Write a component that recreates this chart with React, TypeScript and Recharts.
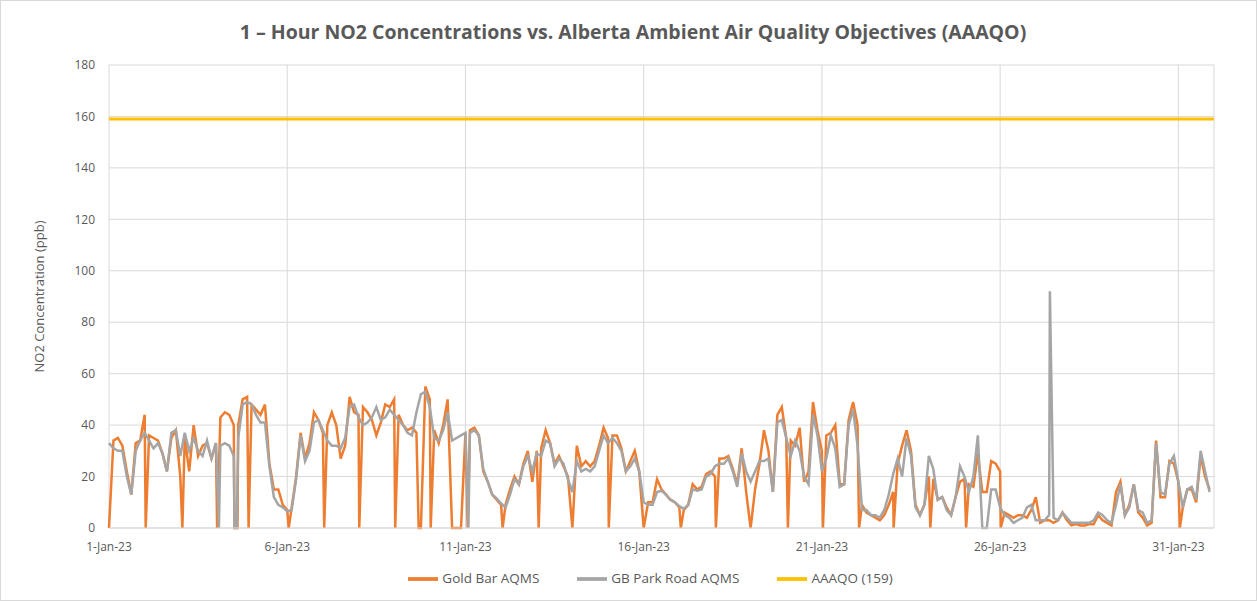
import { LineChart, Line, XAxis, YAxis, CartesianGrid, Legend } from 'recharts';

// x axis is hours since 1-Jan-23 00:00
const dayTicks = [0, 120, 240, 360, 480, 600, 720];
const dayLabels = ['1-Jan-23', '6-Jan-23', '11-Jan-23', '16-Jan-23', '21-Jan-23', '26-Jan-23', '31-Jan-23'];
const yTicks = [0, 20, 40, 60, 80, 100, 120, 140, 160, 180];
const legendOrder = ['Gold Bar AQMS', 'GB Park Road AQMS', 'AAAQO (159)'];

// 3-hourly readings (ppb)
const goldBar = [
  0, 34, 35, 32, 22, 13, 33, 34, 44, 36, 35, 34, 29, 22, 35, 38, 20, 35, 22, 40, 28,
  32, 33, 27, 33, 43, 45, 44, 40, 40, 50, 51, 48, 46, 44, 48, 25, 15, 15, 9, 7, 8,
  20, 37, 27, 33, 45, 42, 37, 40, 45, 40, 27, 32, 51, 45, 44, 47, 45, 42, 36, 41,
  48, 47, 50, 44, 40, 38, 39, 37, 0, 55, 50, 38, 33, 40, 50, 0, 0, 0, 37, 38,
  39, 36, 22, 18, 13, 11, 9, 9, 15, 20, 17, 25, 30, 18, 30, 31, 38, 33, 25, 28, 24,
  20, 0, 32, 24, 26, 24, 26, 32, 39, 35, 36, 36, 31, 22, 26, 30, 22, 0, 10, 10, 19,
  15, 13, 11, 10, 8, 7, 9, 17, 15, 16, 21, 22, 20, 27, 27, 28, 23, 17, 31, 14,
  0, 15, 25, 38, 30, 14, 44, 47, 35, 34, 32, 39, 18, 22, 49, 38, 30, 36, 37, 40, 17,
  17, 42, 49, 40, 9, 6, 5, 4, 3, 5, 9, 14, 25, 32, 38, 30, 9, 5, 9, 20, 19,
  11, 12, 8, 5, 12, 18, 19, 17, 16, 29, 14, 14, 26, 25, 22, 6, 5, 4, 5, 5, 4,
  7, 12, 2, 3, 3, 2, 3, 6, 3, 1, 1.5, 1, 1, 1.5, 1.5, 5, 3, 2, 1, 14, 18,
  5, 9, 17, 6, 4, 1, 2, 34, 12, 12, 26, 25, 18, 8, 15, 15, 10, 28, 20, 15,
];

const parkRoad = [
  33, 31, 30, 30, 20, 13, 30, 34, 37, 34, 31, 33, 29, 22, 37, 38, 28, 37, 30, 35, 30,
  28, 34, 27, 33, 32, 33, 32, 28, 35, 48, 49, 48, 44, 41, 41, 24, 12, 9, 8, 6.5, 7,
  19, 36, 26, 30, 41, 42, 38, 34, 32, 32, 31, 35, 47, 48, 43, 40, 41, 43, 47, 42,
  43, 46, 44, 42, 40, 37, 36, 45, 52, 53, 47, 35, 34, 38, 45, 34, 35, 36, 37, 37,
  38, 36, 23, 18, 13, 11.5, 9.5, 8, 13, 19, 17, 24, 28, 22, 29, 28, 34, 33, 24, 27, 25,
  19, 14, 26, 22, 23, 22, 24, 30, 36, 33, 35, 33, 30, 22, 24, 27, 22, 10, 9, 9, 14,
  14.5, 13, 11, 10, 8.5, 7.5, 9, 15, 14.5, 15, 20, 21, 24, 25, 25, 27, 22, 16, 29, 22,
  18, 22, 26, 26, 27, 14, 41, 42, 35, 28, 34, 30, 20, 17, 44, 36, 22, 27, 36, 31, 16,
  17, 40, 46, 32, 7, 7, 5, 5, 4, 7, 13, 21, 27, 20, 35, 28, 8, 5, 9, 28, 23,
  11, 12, 7, 5, 12, 24, 20, 14, 20, 36, 0, 0, 15, 15, 8, 5, 4, 2, 3, 4, 8,
  9, 3, 3, 3, 5, 4, 3, 6, 4, 2, 2, 2, 2, 2, 3, 6, 5, 3, 2, 9, 17,
  5, 8, 17, 7, 6, 2, 3, 33, 14, 13, 25, 28, 18, 8, 15, 16, 11, 30, 22, 14,
];

// single-hour readings between the 3-hourly points: [hour, ppb]
const goldBarExtra = [
  [24.7, 0], [49.4, 0], [72.8, 0], [84.5, 0], [86.5, 0], [94, 0], [121, 0], [144.9, 0],
  [168.5, 0], [192.7, 0], [208.5, 0], [216.6, 0], [241.5, 0], [265, 0], [289.3, 0],
  [336.5, 0], [385, 0], [408.6, 0], [457.1, 0], [480.7, 0], [505, 0], [528.3, 0],
  [553, 0], [577.1, 0], [600.4, 0], [721, 0],
];
const parkRoadExtra = [[74, 0], [84.5, 0], [86, 0], [242, 0], [633.5, 92]];

const objective = 159;

const toSeries = (vals: number[], extra: number[][]) =>
  [...vals.map((v, i) => ({ hour: i * 3, value: v })), ...extra.map(([h, v]) => ({ hour: h, value: v }))].sort(
    (a, b) => a.hour - b.hour
  );

const goldBarData = toSeries(goldBar, goldBarExtra);
const parkRoadData = toSeries(parkRoad, parkRoadExtra);
const objectiveData = [
  { hour: 0, value: objective },
  { hour: 744, value: objective },
];

const FONT = '"Open Sans", sans-serif';
const TEXT = '#595959';

export default function App() {
  return (
    <div
      style={{
        position: 'absolute',
        left: 0,
        top: 0,
        width: 1257,
        height: 601,
        background: '#fff',
        border: '1px solid #D9D9D9',
        boxSizing: 'border-box',
        fontFamily: FONT,
      }}
    >
      <div
        style={{
          position: 'absolute',
          top: 17,
          left: 0,
          width: 1264,
          textAlign: 'center',
          fontSize: 19.5,
          fontWeight: 'bold',
          color: TEXT,
        }}
      >
        1 – Hour NO2 Concentrations vs. Alberta Ambient Air Quality Objectives (AAAQO)
      </div>
      <LineChart width={1255} height={599} margin={{ top: 64, right: 42, bottom: 12, left: 0 }}>
        <CartesianGrid stroke="#D9D9D9" />
        <XAxis
          dataKey="hour"
          type="number"
          domain={[0, 744]}
          ticks={dayTicks}
          tickFormatter={(h: number) => dayLabels[dayTicks.indexOf(h)]}
          tick={{ fill: TEXT, fontSize: 12, fontFamily: FONT }}
          tickLine={false}
          tickMargin={8}
          axisLine={{ stroke: '#D9D9D9' }}
          height={30}
        />
        <YAxis
          domain={[0, 180]}
          ticks={yTicks}
          width={108}
          tick={{ fill: TEXT, fontSize: 12, fontFamily: FONT }}
          tickLine={false}
          tickMargin={8}
          axisLine={false}
          label={{
            value: 'NO2 Concentration (ppb)',
            angle: -90,
            position: 'center',
            dx: -16,
            style: { fill: TEXT, fontSize: 13, fontFamily: FONT },
          }}
        />
        <Legend
          verticalAlign="bottom"
          iconSize={30}
          wrapperStyle={{ bottom: 6, left: 62 }}
          itemSorter={(item: { value: string }) => legendOrder.indexOf(item.value)}
          formatter={(value: string) => (
            <span style={{ color: TEXT, fontSize: 13.5, marginRight: 28 }}>{value}</span>
          )}
        />
        <Line
          data={goldBarData}
          dataKey="value"
          name="Gold Bar AQMS"
          stroke="#ED7D31"
          strokeWidth={2.5}
          dot={false}
          legendType="plainline"
          isAnimationActive={false}
        />
        <Line
          data={parkRoadData}
          dataKey="value"
          name="GB Park Road AQMS"
          stroke="#A5A5A5"
          strokeWidth={2.5}
          dot={false}
          legendType="plainline"
          isAnimationActive={false}
        />
        <Line
          data={objectiveData}
          dataKey="value"
          name="AAAQO (159)"
          stroke="#FFC000"
          strokeWidth={3}
          dot={false}
          legendType="plainline"
          isAnimationActive={false}
        />
      </LineChart>
    </div>
  );
}
